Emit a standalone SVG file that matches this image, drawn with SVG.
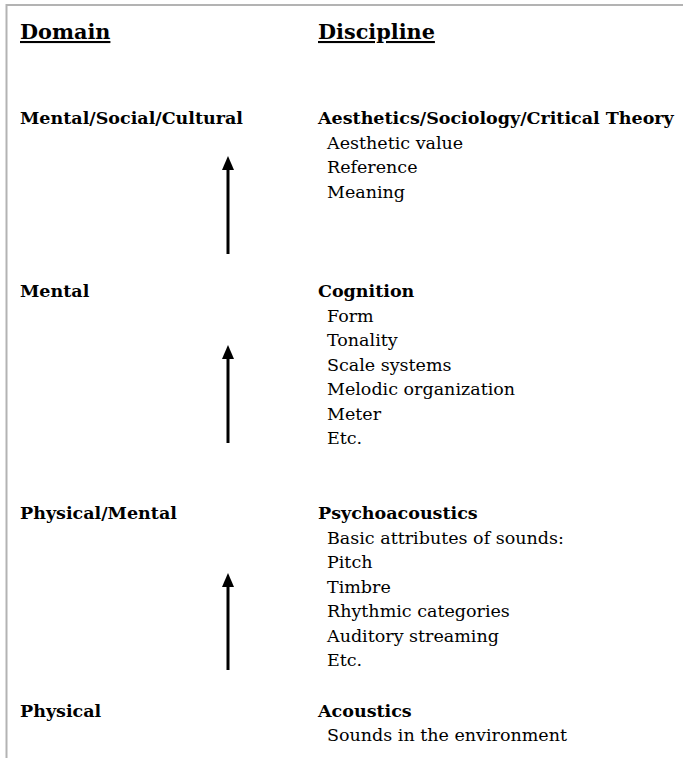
<svg xmlns="http://www.w3.org/2000/svg" width="683" height="758" viewBox="0 0 683 758">
<defs>
<style>
text{font-family:"DejaVu Serif","Liberation Serif",serif;fill:#000}
.hd{font-size:20.8px;font-weight:bold;text-decoration:underline}
.lb{font-size:17.5px;font-weight:bold}
.it{font-size:17.5px}
.border{stroke:#b3b3b3;stroke-width:2;fill:none}
.arr{stroke:#000;stroke-width:3;fill:none}
</style>
<marker id="ah" markerUnits="userSpaceOnUse" markerWidth="14" markerHeight="13" viewBox="0 0 14 12" refX="1" refY="6" orient="auto">
<path d="M0,0 L14,6 L0,12 z" fill="#000"/>
</marker>
</defs>
<rect width="683" height="758" fill="#fff"/>
<path class="border" d="M6.5,758 V5 H683"/>
<g id="headers">
<text class="hd" x="20" y="39">Domain</text>
<text class="hd" x="318" y="39">Discipline</text>
</g>
<g id="node-cultural">
<text class="lb" x="20" y="123.5">Mental/Social/Cultural</text>
<text class="lb" x="318" y="123.5">Aesthetics/Sociology/Critical Theory</text>
<text class="it" x="327" y="148.5">Aesthetic value</text>
<text class="it" x="327" y="173">Reference</text>
<text class="it" x="327" y="197.5">Meaning</text>
</g>
<g id="node-mental">
<text class="lb" x="20" y="297">Mental</text>
<text class="lb" x="318" y="297">Cognition</text>
<text class="it" x="327" y="321.5">Form</text>
<text class="it" x="327" y="346">Tonality</text>
<text class="it" x="327" y="370.5">Scale systems</text>
<text class="it" x="327" y="395">Melodic organization</text>
<text class="it" x="327" y="419.5">Meter</text>
<text class="it" x="327" y="444">Etc.</text>
</g>
<g id="node-physmental">
<text class="lb" x="20" y="519">Physical/Mental</text>
<text class="lb" x="318" y="519">Psychoacoustics</text>
<text class="it" x="327" y="543.5">Basic attributes of sounds:</text>
<text class="it" x="327" y="568">Pitch</text>
<text class="it" x="327" y="592.5">Timbre</text>
<text class="it" x="327" y="617">Rhythmic categories</text>
<text class="it" x="327" y="641.5">Auditory streaming</text>
<text class="it" x="327" y="666">Etc.</text>
</g>
<g id="node-physical">
<text class="lb" x="20" y="716.5">Physical</text>
<text class="lb" x="318" y="716.5">Acoustics</text>
<text class="it" x="327" y="741">Sounds in the environment</text>
</g>
<g id="connectors">
<line class="arr" x1="228" y1="254" x2="228" y2="169" marker-end="url(#ah)"/>
<line class="arr" x1="228" y1="443" x2="228" y2="358" marker-end="url(#ah)"/>
<line class="arr" x1="228" y1="670" x2="228" y2="586" marker-end="url(#ah)"/>
</g>
</svg>
